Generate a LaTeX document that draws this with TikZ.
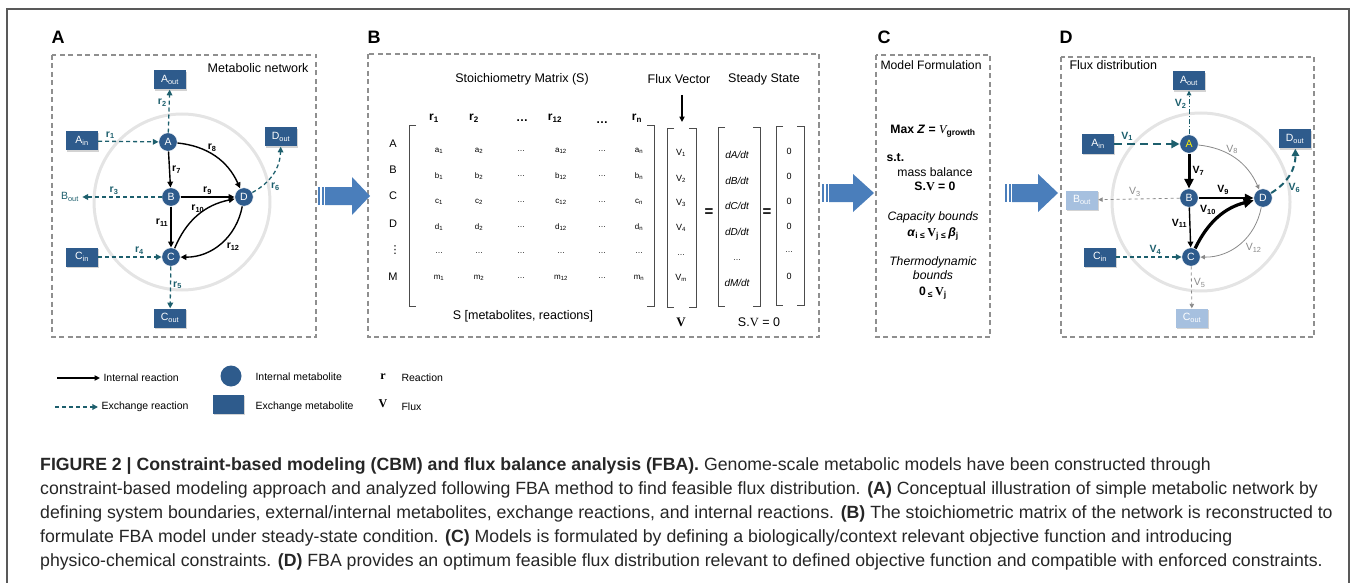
\documentclass[tikz,border=0pt]{standalone}
\usepackage{fontspec}
\setmainfont{Liberation Sans}
\newfontfamily\timesfont{Liberation Serif}
\newfontfamily\symfont{DejaVu Sans}
\usetikzlibrary{arrows.meta,shadows}
\definecolor{metblue}{HTML}{2E5B8C}
\definecolor{exteal}{HTML}{1D5F6D}
\definecolor{fadeblue}{HTML}{A6C0DF}
\definecolor{fatarrow}{HTML}{4A7EBB}
\definecolor{ringgrey}{HTML}{E4E4E4}
\definecolor{dashgrey}{HTML}{8F8F8F}
\definecolor{fluxgrey}{HTML}{8A8A8A}
\newcommand{\fsz}[1]{\fontsize{#1}{#1}\selectfont}

\begin{document}
\begin{tikzpicture}[x=1pt, y=-1pt,
    met/.style={circle, fill=metblue, draw=white, line width=0.5pt, minimum size=18.5pt, inner sep=0pt, text=white, font=\fsz{10.5}},
    exbox/.style={rectangle, fill=metblue, minimum width=32pt, minimum height=19pt, inner sep=0pt, text=white, font=\fsz{10.5}, drop shadow={shadow xshift=1pt, shadow yshift=-1.2pt, opacity=0.35}},
    fadebox/.style={exbox, fill=fadeblue},
    internal/.style={-{Triangle[length=2.5pt 2.4, width=2.5pt 2.2]}, line width=1.4pt, black},
    exch/.style={-{Triangle[length=2.5pt 2.4, width=2.5pt 2.4]}, line width=1.3pt, exteal, dash pattern=on 4pt off 3pt},
    faded/.style={-{Triangle[length=2.5pt 2.4, width=2.5pt 2.4]}, line width=0.8pt, fluxgrey},
    rlab/.style={font=\bfseries\fsz{10.5}, inner sep=2pt},
    glab/.style={font=\fsz{10.5}, text=fluxgrey, inner sep=2pt},
    tag/.style={font=\bfseries\fsz{18}},
    panel/.style={draw=dashgrey, line width=1.1pt, dash pattern=on 5pt off 3.5pt},
    ring/.style={draw=ringgrey, line width=3pt},
    title/.style={font=\fsz{12.5}},
    entry/.style={font=\fsz{8}},
    rowlab/.style={font=\fsz{11}},
    colhead/.style={font=\bfseries\fsz{12}},
    bracket/.style={draw=black!70, line width=0.9pt},
    formtxt/.style={font=\fsz{12.2}},
    legtxt/.style={font=\fsz{10.5}, anchor=west},
    caption/.style={font=\fontsize{17.7}{24}\selectfont, text=black!85, align=left, anchor=north west, inner sep=0pt}
]
    \useasboundingbox (0,0) rectangle (1357,583);
    \draw[draw=black!65, line width=1.2pt] (7,9) rectangle (1349,600);

    % panel tags
    \node[tag] (tagA) at (58,37) {A};
    \node[tag] (tagB) at (374,37) {B};
    \node[tag] (tagC) at (884,37) {C};
    \node[tag] (tagD) at (1066,37) {D};

    % A: metabolic network
    \draw[panel] (52,55) rectangle (316,337);
    \node[title, anchor=east] (titA) at (312,68) {Metabolic network};
    \draw[ring] (182,202) circle[radius=88];
    \node[met] (aA) at (168,142) {A};
    \node[met] (aB) at (171,197) {B};
    \node[met] (aC) at (171,257) {C};
    \node[met] (aD) at (244,197) {D};
    \node[exbox] (aAout) at (170,80) {A\textsubscript{out}};
    \node[exbox] (aAin) at (82,141) {A\textsubscript{in}};
    \node[exbox] (aDout) at (281,137) {D\textsubscript{out}};
    \node[exbox] (aCin) at (82,257) {C\textsubscript{in}};
    \node[exbox] (aCout) at (170,318) {C\textsubscript{out}};
    \node[font=\fsz{10.5}, text=exteal] (aBout) at (70,197) {B\textsubscript{out}};

    \draw[exch] (aAin) -- node[rlab, above, pos=0.2] {r\textsubscript{1}} (aA);
    \draw[exch] (aA) -- node[rlab, left, pos=0.7] {r\textsubscript{2}} (aAout);
    \draw[exch] (aB) -- node[rlab, above, pos=0.6] {r\textsubscript{3}} (aBout);
    \draw[exch] (aCin) -- node[rlab, above, pos=0.65] {r\textsubscript{4}} (aC);
    \draw[exch] (aC) -- node[rlab, right, pos=0.45] {r\textsubscript{5}} (aCout);
    \draw[exch] (aD) to[bend right=30] node[rlab, below right, pos=0.35] {r\textsubscript{6}} (aDout);
    \draw[internal] (aA) -- node[rlab, right] {r\textsubscript{7}} (aB);
    \draw[internal] (aA) to[bend left=30] node[rlab, above, pos=0.45] {r\textsubscript{8}} (aD);
    \draw[internal] (aB) -- node[rlab, above] {r\textsubscript{9}} (aD);
    \draw[internal] (aC) to[bend left=28] node[rlab, above=0pt, pos=0.5] {r\textsubscript{10}} (aD);
    \draw[internal] (aB) -- node[rlab, left, pos=0.4] {r\textsubscript{11}} (aC);
    \draw[internal] (aD) to[bend left=40] node[rlab, below right, pos=0.45] {r\textsubscript{12}} (aC);

    % B: stoichiometry
    \draw[panel] (368,54) rectangle (819,337);
    \node[title] (stitle) at (522,79) {Stoichiometry Matrix (S)};
    \node[title] (ftitle) at (679,79) {Flux Vector};
    \node[title] (sstitle) at (764,79) {Steady State};
    \foreach \c/\xx in {1/434, 2/474, 12/555, n/637}
        \node[colhead] (col\c) at (\xx,118) {r\textsubscript{\c}};
    \node[colhead] (coldotsa) at (522,121) {\ldots};
    \node[colhead] (coldotsb) at (602,123) {\ldots};
    \foreach \lab/\yy in {A/144, B/170, C/196, D/224, M/277}
        \node[rowlab] (row\lab) at (393,\yy) {\lab};
    \node[rowlab] (rowdots) at (395,250) {\symfont ⋮};
    \foreach \r/\yy in {a/151, b/176, c/202, d/227, m/278} {
        \foreach \c/\xx in {1/439, 2/479, 12/561, n/639}
            \node[entry] (s\r\c) at (\xx,\yy) {\r\textsubscript{\c}};
        \foreach \xx [count=\k] in {521, 602}
            \node[entry] (s\r dots\k) at (\xx,\yy) {\ldots};
    }
    \foreach \xx [count=\k] in {439, 479, 521, 561, 602, 639}
        \node[entry] (sdots\k) at (\xx,253) {\ldots};
    \foreach \xl/\xr/\yt/\yb in {409/654/125/306, 667/696/128/307, 718/760/127/306, 776/804/126/305}
        \draw[bracket] (\xl+7,\yt) -- (\xl,\yt) -- (\xl,\yb) -- (\xl+7,\yb)
                       (\xr-7,\yt) -- (\xr,\yt) -- (\xr,\yb) -- (\xr-7,\yb);
    \foreach \i/\yy in {1/153, 2/179, 3/203, 4/228, m/278}
        \node[entry, font=\fsz{9}] (v\i) at (681,\yy) {V\textsubscript{\i}};
    \node[entry] (vdots) at (681,255) {\ldots};
    \foreach \m/\yy in {A/155, B/181, C/206, D/232, M/283}
        \node[entry, font=\itshape\fsz{10}] (rate\m) at (737,\yy) {d\m/dt};
    \node[entry] (ratedots) at (737,260) {\ldots};
    \foreach \yy [count=\k] in {151, 176, 201, 226, 276}
        \node[entry, font=\fsz{9}] (zero\k) at (789,\yy) {0};
    \node[entry] (zerodots) at (789,252) {\ldots};
    \node[font=\bfseries\fsz{15}] (eqa) at (709,213) {=};
    \node[font=\bfseries\fsz{15}] (eqb) at (767,213) {=};
    \coordinate (fluxtail) at (682,95);
    \coordinate (fluxhead) at (682,122);
    \draw[internal, line width=1.2pt] (fluxtail) -- (fluxhead);
    \node[title] (sdims) at (523,316) {S [metabolites, reactions]};
    \node[font=\timesfont\bfseries\fsz{13}] (vlabel) at (681,322) {V};
    \node[title] (ssv) at (759,322) {S.{\timesfont V} = 0};

    % C: model formulation
    \draw[panel] (876,55) rectangle (990,337);
    \node[formtxt, anchor=west] (ctitle) at (877,65) {Model Formulation};
    \node[formtxt, font=\bfseries\fsz{12.2}] (cmax) at (933,131) {Max \textit{Z} = {\timesfont\mdseries\itshape V}\textsubscript{growth}};
    \node[formtxt, font=\bfseries\fsz{12.2}, anchor=west] (cst) at (883,158) {s.t.};
    \node[formtxt] (cmass) at (935,172) {mass balance};
    \node[formtxt, font=\bfseries\fsz{12.2}] (csv) at (935,186) {S.{\timesfont V} = 0};
    \node[formtxt, font=\itshape\fsz{12.2}] (ccap) at (933,217) {Capacity bounds};
    \node[formtxt, font=\bfseries\fsz{12.2}] (cab) at (933,234) {\textit{α}\textsubscript{i}\,\textsubscript{≤}\,{\timesfont V}\textsubscript{j}\,\textsubscript{≤}\,\textit{β}\textsubscript{j}};
    \node[formtxt, font=\itshape\fontsize{12.2}{14}\selectfont, align=center] (cthermo) at (933,268) {Thermodynamic\\bounds};
    \node[formtxt, font=\bfseries\fsz{12.2}] (czero) at (933,293) {0\,\textsubscript{≤}\,{\timesfont V}\textsubscript{j}};

    % D: flux distribution
    \draw[panel] (1061,57) rectangle (1314,337);
    \node[title, anchor=west] (titD) at (1066,65) {Flux distribution};
    \draw[ring] (1201,202) circle[radius=89];
    \node[met, text=yellow] (dA) at (1189,144) {A};
    \node[met] (dB) at (1189,198) {B};
    \node[met] (dC) at (1191,257) {C};
    \node[met] (dD) at (1263,198) {D};
    \node[exbox] (dAout) at (1189,81) {A\textsubscript{out}};
    \node[exbox] (dAin) at (1098,144) {A\textsubscript{in}};
    \node[exbox] (dDout) at (1295,139) {D\textsubscript{out}};
    \node[fadebox] (dBout) at (1082,200) {B\textsubscript{out}};
    \node[exbox] (dCin) at (1100,257) {C\textsubscript{in}};
    \node[fadebox] (dCout) at (1192,318) {C\textsubscript{out}};

    \draw[exch, line width=2.3pt, dash pattern=on 8pt off 5pt] (dAin) -- node[rlab, above, pos=0.2] {V\textsubscript{1}} (dA);
    \draw[exch, line width=0.9pt, dash pattern=on 5pt off 2pt on 1pt off 2pt] (dA) -- node[rlab, left, pos=0.7] {V\textsubscript{2}} (dAout);
    \draw[faded, dashed] (dB) -- node[glab, above, pos=0.55] {V\textsubscript{3}} (dBout);
    \draw[exch] (dCin) -- node[rlab, above, pos=0.6] {V\textsubscript{4}} (dC);
    \draw[faded, dashed] (dC) -- node[glab, right, pos=0.4] {V\textsubscript{5}} (dCout);
    \draw[exch, line width=2pt, dash pattern=on 6pt off 4pt] (dD) to[bend right=30] node[rlab, below right, pos=0.35] {V\textsubscript{6}} (dDout);
    \draw[internal, line width=3pt] (dA) -- node[rlab, right] {V\textsubscript{7}} (dB);
    \draw[faded] (dA) to[bend left=30] node[glab, above, pos=0.45] {V\textsubscript{8}} (dD);
    \draw[internal, line width=2.6pt] (dB) -- node[rlab, above, pos=0.45] {V\textsubscript{9}} (dD);
    \draw[internal, line width=3.2pt] (dC) to[bend left=25] node[rlab, above left=-1pt, pos=0.5] {V\textsubscript{10}} (dD);
    \draw[internal, line width=1.4pt] (dB) -- node[rlab, left, pos=0.4] {V\textsubscript{11}} (dC);
    \draw[faded] (dD) to[bend left=40] node[glab, below right, pos=0.45] {V\textsubscript{12}} (dC);

    % big arrows between panels
    \foreach \xs/\xh/\xt/\yc in {318/352/370/196, 822/853/874/193, 1005/1038/1058/193} {
        \fill[fatarrow] (\xs,\yc-9) rectangle ++(2,18);
        \fill[fatarrow] (\xs+3.5,\yc-9) rectangle ++(2,18);
        \fill[fatarrow] (\xs+7,\yc-9) -- (\xh,\yc-9) -- (\xh,\yc-19) -- (\xt,\yc)
            -- (\xh,\yc+19) -- (\xh,\yc+9) -- (\xs+7,\yc+9) -- cycle;
    }

    % legend
    \coordinate (lgis) at (57,378);
    \node[legtxt] (lgint) at (100,378) {Internal reaction};
    \draw[internal, line width=1.2pt] (lgis) -- (lgint);
    \coordinate (lges) at (55,407);
    \node[legtxt] (lgexr) at (98,407) {Exchange reaction};
    \draw[exch] (lges) -- (lgexr);
    \node[met, minimum size=21pt, draw=none] (lgmet) at (231,376) {};
    \node[exbox, minimum width=31pt, minimum height=19pt] (lgbox) at (228.5,404.5) {};
    \node[legtxt] (lgmettxt) at (252,377) {Internal metabolite};
    \node[legtxt] (lgboxtxt) at (252,407) {Exchange metabolite};
    \node[font=\timesfont\bfseries\fsz{12}] (lgr) at (383,377) {r};
    \node[font=\timesfont\bfseries\fsz{12}] (lgv) at (383,404) {V};
    \node[legtxt] (lgrtxt) at (398,378) {Reaction};
    \node[legtxt] (lgvtxt) at (398,407) {Flux};

    % caption
    \node[caption] (cap) at (40,457) {\textbf{FIGURE 2 | Constraint-based modeling (CBM) and flux balance analysis (FBA).} Genome-scale metabolic models have been constructed through\\
constraint-based modeling approach and analyzed following FBA method to find feasible flux distribution. \textbf{(A)} Conceptual illustration of simple metabolic network by\\
defining system boundaries, external/internal metabolites, exchange reactions, and internal reactions. \textbf{(B)} The stoichiometric matrix of the network is reconstructed to\\
formulate FBA model under steady-state condition. \textbf{(C)} Models is formulated by defining a biologically/context relevant objective function and introducing\\
physico-chemical constraints. \textbf{(D)} FBA provides an optimum feasible flux distribution relevant to defined objective function and compatible with enforced constraints.};
\end{tikzpicture}
\end{document}
